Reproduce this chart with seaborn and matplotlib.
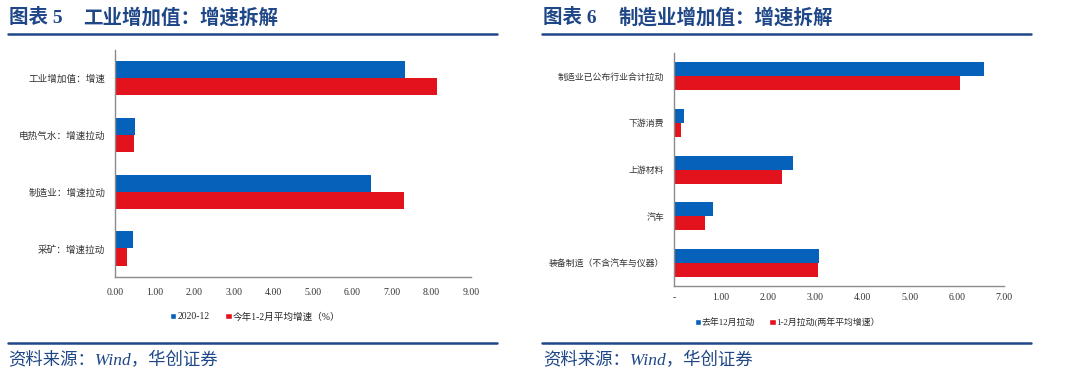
import numpy as np
import pandas as pd
import matplotlib
matplotlib.use("Agg")
import matplotlib.pyplot as plt
from matplotlib.patches import Patch
import seaborn as sns

# left panel: industrial value added, growth decomposition
left_cats = ["工业增加值：增速", "电热气水：增速拉动", "制造业：增速拉动", "采矿：增速拉动"]
left_series = ["2020-12", "今年1-2月平均增速（%）"]
left_dec = [7.33, 0.50, 6.48, 0.45]
left_janfeb = [8.13, 0.47, 7.30, 0.30]
left_ticks = [0, 1, 2, 3, 4, 5, 6, 7, 8, 9]
left_ticklabels = ["0.00", "1.00", "2.00", "3.00", "4.00", "5.00", "6.00", "7.00", "8.00", "9.00"]

# right panel: manufacturing value added, growth decomposition
right_cats = ["制造业已公布行业合计拉动", "下游消费", "上游材料", "汽车", "装备制造（不含汽车与仪器）"]
right_series = ["去年12月拉动", "1-2月拉动(两年平均增速）"]
right_dec = [6.57, 0.21, 2.52, 0.83, 3.08]
right_janfeb = [6.07, 0.15, 2.28, 0.65, 3.05]
right_ticks = [0, 1, 2, 3, 4, 5, 6, 7]
right_ticklabels = ["-", "1.00", "2.00", "3.00", "4.00", "5.00", "6.00", "7.00"]

sns.set_theme(style="white")
plt.rcParams["font.family"] = ["Liberation Serif", "Noto Sans CJK SC", "DejaVu Sans"]

BLUE = "#0561BA"
RED = "#E3131E"
NAVY = "#1F4787"
AXC = "#8a8a8a"
CJK = ["Noto Sans CJK SC", "DejaVu Sans"]
SERIF_CJK = ["Liberation Serif", "Noto Sans CJK SC"]


def long_frame(cats, series, a, b):
    return pd.DataFrame({
        "cat": cats * 2,
        "series": [series[0]] * len(cats) + [series[1]] * len(cats),
        "value": a + b,
    })


def panel(fig, rect, cats, series, a, b, ticks, ticklabels, tick_dir, catsize):
    ax = fig.add_axes(rect)
    df = long_frame(cats, series, a, b)
    sns.barplot(data=df, y="cat", x="value", hue="series", orient="h",
                palette=[BLUE, RED], width=0.6, ax=ax, legend=False,
                edgecolor="none", saturation=1)
    ax.set_xlim(ticks[0], ticks[-1])
    ax.set_ylim(len(cats) - 0.5, -0.5)
    ax.set_xticks(ticks)
    ax.set_xticklabels(ticklabels, fontsize=7, color="#333333")
    ax.set_yticks(range(len(cats)))
    ax.set_yticklabels(cats, fontsize=catsize, family=CJK, color="#333333")
    ax.set_yticks(np.arange(-0.5, len(cats), 1), minor=True)
    ax.tick_params(axis="y", which="major", length=0, pad=7)
    ax.tick_params(axis="y", which="minor", length=3, color=AXC, direction="out")
    ax.tick_params(axis="x", length=3, color=AXC, direction=tick_dir, pad=5)
    ax.set_xlabel("")
    ax.set_ylabel("")
    for s in ["top", "right"]:
        ax.spines[s].set_visible(False)
    for s in ["left", "bottom"]:
        ax.spines[s].set_color(AXC)
        ax.spines[s].set_linewidth(1.0)
    return ax


fig = plt.figure(figsize=(10.8, 3.84), dpi=100)

panel(fig, [0.1065, 0.279, 0.3296, 0.591], left_cats, left_series,
      left_dec, left_janfeb, left_ticks, left_ticklabels, "out", 6.9)
panel(fig, [0.624, 0.255, 0.306, 0.607], right_cats, right_series,
      right_dec, right_janfeb, right_ticks, right_ticklabels, "in", 6.4)

# legends
for x, y, labels, size in [(0.236, 0.175, left_series, 6.9),
                           (0.729, 0.16, right_series, 6.4)]:
    handles = [Patch(facecolor=BLUE), Patch(facecolor=RED)]
    fig.legend(handles, labels, loc="center", bbox_to_anchor=(x, y), ncol=2,
               frameon=False, handlelength=0.7, handleheight=0.7,
               handletextpad=0.1, columnspacing=1.6,
               prop={"family": SERIF_CJK, "size": size})

# titles, rules and source notes
titles = [(0.008, "图表 5", 0.077, "工业增加值：增速拆解", 0.007, 0.46),
          (0.503, "图表 6", 0.573, "制造业增加值：增速拆解", 0.502, 0.955)]
for tx, num, mx, text, x0, x1 in titles:
    fig.text(tx, 0.955, num, fontsize=14, fontweight="bold", color=NAVY,
             family=SERIF_CJK, va="center", ha="left")
    fig.text(mx, 0.955, text, fontsize=14, fontweight="bold", color=NAVY,
             family=CJK, va="center", ha="left")
    fig.add_artist(plt.Line2D([x0, x1], [0.911, 0.911], color=NAVY, lw=1.8,
                              transform=fig.transFigure))
    fig.add_artist(plt.Line2D([x0, x1], [0.107, 0.107], color=NAVY, lw=1.8,
                              transform=fig.transFigure))
    fig.text(tx, 0.062, "资料来源：Wind，华创证券", fontsize=12.5, style="italic",
             color=NAVY, family=SERIF_CJK, va="center", ha="left")

fig.savefig("out.png", dpi=100, facecolor="white")
